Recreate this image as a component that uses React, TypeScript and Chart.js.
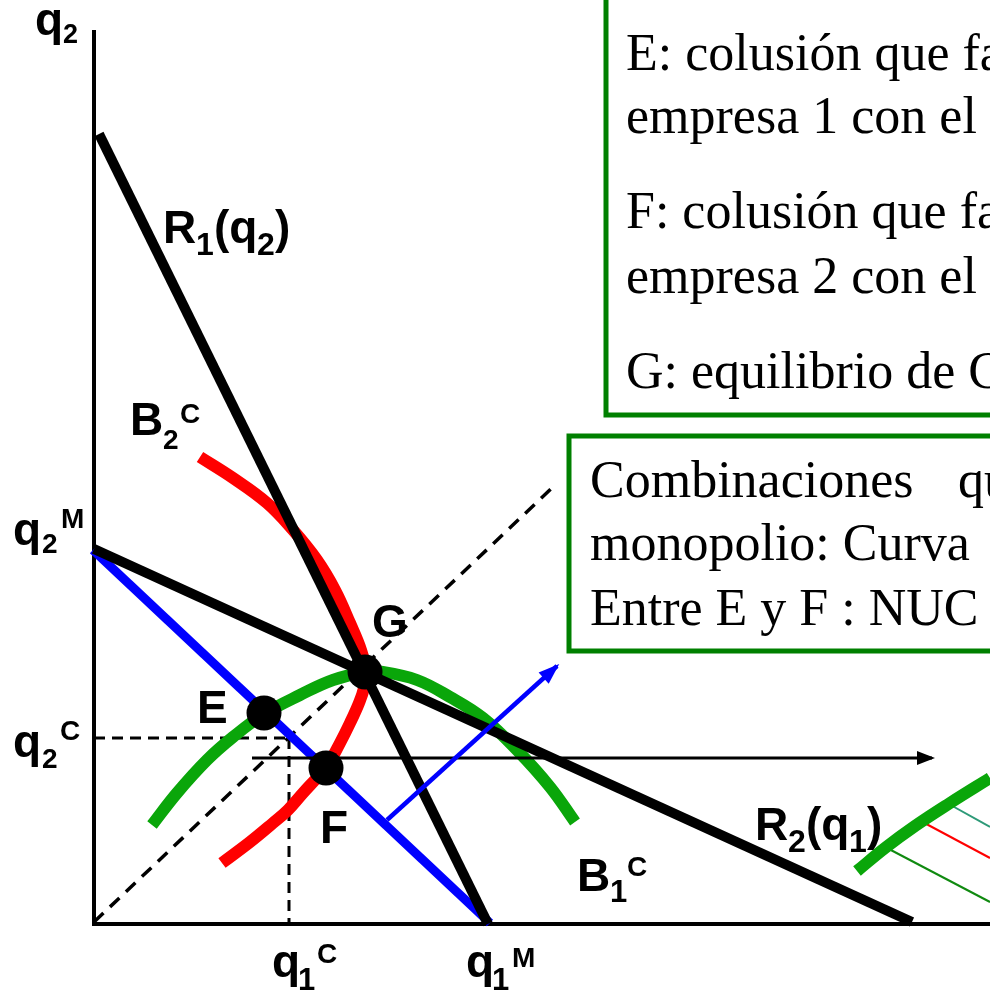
import React, { useEffect, useRef } from "react";
import { Chart, registerables } from "chart.js";

Chart.register(...registerables);

// Data space: origin at the axes corner (q1 = 0, q2 = 0)
const Q1_MAX = 896;
const Q2_MAX = 892;

const reaction1 = [{ x: 5, y: 790 }, { x: 394, y: 0 }];
const reaction2 = [{ x: 0, y: 375 }, { x: 818, y: 2 }];
const monopolyLine = [{ x: -1, y: 374 }, { x: 396, y: 1 }];
const diagonal45 = [{ x: 0, y: 2 }, { x: 459, y: 437 }];
const q2cGuide = [{ x: 0, y: 186 }, { x: 196, y: 186 }];
const q1cGuide = [{ x: 195, y: 186 }, { x: 195, y: 2 }];

const isoProfit2 = [
  { x: 106, y: 467 }, { x: 139, y: 446 }, { x: 173, y: 421 }, { x: 199, y: 394 },
  { x: 223, y: 364 }, { x: 241, y: 334 }, { x: 256, y: 301 }, { x: 267, y: 274 },
  { x: 272, y: 252 }, { x: 270, y: 236 }, { x: 265, y: 221 }, { x: 256, y: 201 },
  { x: 246, y: 181 }, { x: 232, y: 156 }, { x: 221, y: 144 }, { x: 209, y: 131 },
  { x: 194, y: 114 }, { x: 179, y: 101 }, { x: 156, y: 82 }, { x: 128, y: 61 },
];

const isoProfit1 = [
  { x: 58, y: 99 }, { x: 83, y: 131 }, { x: 113, y: 164 }, { x: 139, y: 187 },
  { x: 170, y: 210 }, { x: 206, y: 229 }, { x: 239, y: 244 }, { x: 271, y: 252 },
  { x: 289, y: 252 }, { x: 323, y: 244 }, { x: 356, y: 227 }, { x: 389, y: 206 },
  { x: 423, y: 174 }, { x: 456, y: 137 }, { x: 481, y: 102 },
];

const isoProfitOuter = [
  { x: 763, y: 53 }, { x: 791, y: 76 }, { x: 821, y: 98 }, { x: 856, y: 121 }, { x: 896, y: 146 },
];

const hatchTeal = [{ x: 853, y: 121 }, { x: 896, y: 97 }];
const hatchRed = [{ x: 823, y: 105 }, { x: 896, y: 66 }];
const hatchGreen = [{ x: 793, y: 76 }, { x: 896, y: 22 }];

const arrowBlue = [{ x: 293, y: 104 }, { x: 463, y: 258 }];
const arrowBlack = [{ x: 158, y: 166 }, { x: 838, y: 166 }];

const equilibria = [
  { x: 271, y: 252 }, // G
  { x: 170, y: 211 }, // E
  { x: 232, y: 156 }, // F
];

type Part = { text: string; dx: number; dy: number; size: number };
type Label = { x: number; y: number; parts: Part[] };

const axisLabels: Label[] = [
  { x: -59, y: 889, parts: [{ text: "q", dx: 0, dy: 0, size: 46 }, { text: "2", dx: 28, dy: 8, size: 27 }] },
  {
    x: 69, y: 681, parts: [
      { text: "R", dx: 0, dy: 0, size: 46 }, { text: "1", dx: 33, dy: 12, size: 32 },
      { text: "(q", dx: 51, dy: 0, size: 46 }, { text: "2", dx: 94, dy: 12, size: 32 },
      { text: ")", dx: 112, dy: 0, size: 46 },
    ],
  },
  { x: 36, y: 489, parts: [{ text: "B", dx: 0, dy: 0, size: 46 }, { text: "2", dx: 33, dy: 14, size: 28 }, { text: "C", dx: 50, dy: -12, size: 28 }] },
  { x: -81, y: 379, parts: [{ text: "q", dx: 0, dy: 0, size: 46 }, { text: "2", dx: 29, dy: 8, size: 28 }, { text: "M", dx: 48, dy: -17, size: 28 }] },
  { x: 278, y: 287, parts: [{ text: "G", dx: 0, dy: 0, size: 46 }] },
  { x: 103, y: 201, parts: [{ text: "E", dx: 0, dy: 0, size: 46 }] },
  { x: -81, y: 167, parts: [{ text: "q", dx: 0, dy: 0, size: 46 }, { text: "2", dx: 29, dy: 11, size: 28 }, { text: "C", dx: 47, dy: -17, size: 28 }] },
  { x: 226, y: 81, parts: [{ text: "F", dx: 0, dy: 0, size: 46 }] },
  { x: 178, y: -53, parts: [{ text: "q", dx: 0, dy: 0, size: 46 }, { text: "1", dx: 26, dy: 13, size: 31 }, { text: "C", dx: 45, dy: -14, size: 28 }] },
  { x: 372, y: -53, parts: [{ text: "q", dx: 0, dy: 0, size: 46 }, { text: "1", dx: 26, dy: 13, size: 31 }, { text: "M", dx: 46, dy: -10, size: 28 }] },
  { x: 483, y: 33, parts: [{ text: "B", dx: 0, dy: 0, size: 46 }, { text: "1", dx: 33, dy: 11, size: 31 }, { text: "C", dx: 50, dy: -15, size: 28 }] },
  {
    x: 661, y: 84, parts: [
      { text: "R", dx: 0, dy: 0, size: 46 }, { text: "2", dx: 33, dy: 12, size: 32 },
      { text: "(q", dx: 51, dy: 0, size: 46 }, { text: "1", dx: 94, dy: 12, size: 32 },
      { text: ")", dx: 112, dy: 0, size: 46 },
    ],
  },
];

type Line = { text: string; x: number; y: number };
type Box = { x0: number; y0: number; x1: number; y1: number; lines: Line[] };

const legendBoxes: Box[] = [
  {
    x0: 512, y0: 1000, x1: 1000, y1: 509,
    lines: [
      { text: "E: colusión que fa", x: 532, y: 854 },
      { text: "empresa 1 con el", x: 532, y: 791 },
      { text: "F: colusión que fa", x: 532, y: 696 },
      { text: "empresa 2 con el", x: 532, y: 631 },
      { text: "G: equilibrio de C", x: 532, y: 536 },
    ],
  },
  {
    x0: 475, y0: 488, x1: 1000, y1: 273,
    lines: [
      { text: "Combinaciones", x: 496, y: 427 },
      { text: "qu", x: 864, y: 427 },
      { text: "monopolio: Curva", x: 496, y: 364 },
      { text: "Entre E y F : NUC", x: 496, y: 299 },
    ],
  },
];

const arrowPlugin = {
  id: "arrowHeads",
  afterDatasetsDraw(chart: any) {
    const ctx = chart.ctx;
    chart.data.datasets.forEach((ds: any, i: number) => {
      if (!ds.arrowHead) return;
      const pts = chart.getDatasetMeta(i).data;
      const a = pts[pts.length - 2];
      const b = pts[pts.length - 1];
      const ang = Math.atan2(b.y - a.y, b.x - a.x);
      const { length, width } = ds.arrowHead;
      ctx.save();
      ctx.translate(b.x, b.y);
      ctx.rotate(ang);
      ctx.beginPath();
      ctx.moveTo(3, 0);
      ctx.lineTo(3 - length, -width / 2);
      ctx.lineTo(3 - length, width / 2);
      ctx.closePath();
      ctx.fillStyle = ds.borderColor;
      ctx.fill();
      ctx.restore();
    });
  },
};

const textPlugin = {
  id: "diagramText",
  afterDraw(chart: any) {
    const ctx = chart.ctx;
    const xs = chart.scales.x;
    const ys = chart.scales.y;
    ctx.save();
    ctx.textBaseline = "alphabetic";
    ctx.textAlign = "left";
    ctx.fillStyle = "#000";
    for (const lab of axisLabels) {
      const px = xs.getPixelForValue(lab.x);
      const py = ys.getPixelForValue(lab.y);
      for (const p of lab.parts) {
        ctx.font = `bold ${p.size}px "Liberation Sans", Arial, sans-serif`;
        ctx.fillText(p.text, px + p.dx, py + p.dy);
      }
    }
    for (const box of legendBoxes) {
      const left = xs.getPixelForValue(box.x0);
      const right = xs.getPixelForValue(box.x1);
      const top = ys.getPixelForValue(box.y0);
      const bottom = ys.getPixelForValue(box.y1);
      ctx.strokeStyle = "#008000";
      ctx.lineWidth = 5;
      ctx.strokeRect(left, top, right - left, bottom - top);
      ctx.font = `52px "Liberation Serif", "Times New Roman", serif`;
      ctx.fillStyle = "#000";
      for (const ln of box.lines) {
        ctx.fillText(ln.text, xs.getPixelForValue(ln.x), ys.getPixelForValue(ln.y));
      }
    }
    ctx.restore();
  },
};

function lineDs(label: string, data: any[], color: string, width: number, extra: any = {}) {
  return {
    label,
    data,
    borderColor: color,
    backgroundColor: color,
    borderWidth: width,
    pointRadius: 0,
    pointHoverRadius: 0,
    showLine: true,
    fill: false,
    tension: 0,
    clip: false,
    ...extra,
  };
}

export default function App() {
  const ref = useRef<HTMLCanvasElement | null>(null);

  useEffect(() => {
    if (!ref.current) return;
    const datasets: any[] = [
      {
        label: "Puntos",
        data: equilibria,
        showLine: false,
        pointRadius: 17.5,
        pointHoverRadius: 17.5,
        pointBackgroundColor: "#000",
        pointBorderWidth: 0,
        borderColor: "#000",
        clip: false,
      },
      lineDs("Flecha azul", arrowBlue, "#0000ff", 4.5, { arrowHead: { length: 21, width: 15 } }),
      lineDs("Flecha negra", arrowBlack, "#000000", 3, { arrowHead: { length: 18, width: 14 } }),
      lineDs("R1(q2)", reaction1, "#000000", 10),
      lineDs("R2(q1)", reaction2, "#000000", 10),
      lineDs("B2C", isoProfit2, "#ff0000", 12, { tension: 0.4 }),
      lineDs("B1C", isoProfit1, "#0aa60a", 12, { tension: 0.4 }),
      lineDs("Monopolio", monopolyLine, "#0000ff", 9),
      lineDs("45", diagonal45, "#000000", 3.5, { borderDash: [13, 9] }),
      lineDs("q2C", q2cGuide, "#000000", 3, { borderDash: [11, 7] }),
      lineDs("q1C", q1cGuide, "#000000", 3, { borderDash: [11, 7] }),
      lineDs("B1 exterior", isoProfitOuter, "#0aa60a", 12, { tension: 0.4 }),
      lineDs("h1", hatchTeal, "#2e9a78", 2),
      lineDs("h2", hatchRed, "#ff0000", 2),
      lineDs("h3", hatchGreen, "#108a10", 2),
    ];

    const chart = new Chart(ref.current, {
      type: "line",
      data: { datasets },
      options: {
        animation: false,
        responsive: false,
        devicePixelRatio: 1,
        events: [],
        layout: { padding: { left: 94, top: 32, right: 0, bottom: 71 }, autoPadding: false },
        plugins: { legend: { display: false }, tooltip: { enabled: false }, title: { display: false } },
        elements: { point: { radius: 0 } },
        scales: {
          x: {
            type: "linear",
            min: 0,
            max: Q1_MAX,
            grid: { display: false, drawTicks: false },
            ticks: { display: false },
            border: { display: true, color: "#000", width: 4 },
          },
          y: {
            type: "linear",
            min: 0,
            max: Q2_MAX,
            grid: { display: false, drawTicks: false },
            ticks: { display: false },
            border: { display: true, color: "#000", width: 4 },
          },
        },
      } as any,
      plugins: [arrowPlugin, textPlugin],
    });
    return () => chart.destroy();
  }, []);

  return (
    <div style={{ position: "absolute", left: 0, top: 0, width: 990, height: 995, background: "#fff" }}>
      <canvas ref={ref} width={990} height={995} />
    </div>
  );
}
